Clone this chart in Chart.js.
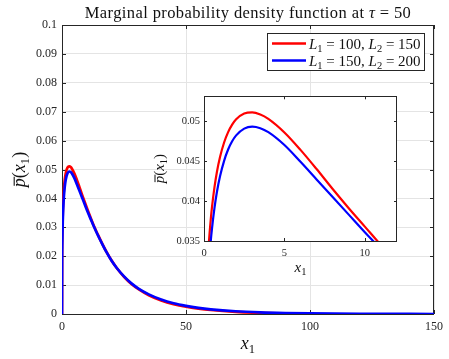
<!DOCTYPE html>
<html>
<head>
<meta charset="utf-8">
<script src="https://cdn.jsdelivr.net/npm/chart.js@4.4.1/dist/chart.umd.min.js"></script>
<style>
  html, body { margin: 0; padding: 0; background: #fff; }
  #wrap { position: relative; width: 449px; height: 359px; overflow: hidden; }
  #main { position: absolute; left: 0; top: 0; }
  #inset { position: absolute; left: 150px; top: 86px; }
</style>
</head>
<body>
<div id="wrap">
  <canvas id="main" width="449" height="359"></canvas>
  <canvas id="inset" width="260" height="200"></canvas>
</div>
<script>
// Sample positions along x1 shared by both densities
const x1Grid = [0, 0.05, 0.1, 0.2, 0.3, 0.42, 0.5, 0.65, 0.8, 1, 1.25, 1.5, 1.75, 2, 2.5, 3, 3.5, 4, 5, 6,
                7, 8, 9, 10, 11, 12, 13, 14, 15, 16, 18, 20, 22, 25, 28, 31, 35, 40, 45, 50,
                55, 60, 70, 80, 90, 100, 110, 120, 130, 140, 150];

// Density for L1 = 100, L2 = 150 (support ends at x1 = 100)
const densityL100 = [0, 0.0215, 0.0260, 0.0313, 0.0347, 0.0377, 0.0393, 0.0417, 0.0436, 0.04553, 0.04732, 0.04862, 0.04956, 0.05023, 0.05095, 0.05109, 0.05083, 0.05028, 0.04858, 0.0464,
                     0.0440, 0.0415, 0.0391, 0.0368, 0.0345, 0.0323, 0.0302, 0.0283, 0.0265, 0.0247, 0.0214, 0.0185, 0.0160, 0.0129, 0.0104, 0.0085, 0.0065, 0.0047, 0.0034, 0.0025,
                     0.00186, 0.00138, 0.00074, 0.00037, 0.00014, 0];

// Density for L1 = 150, L2 = 200 (support ends at x1 = 150)
const densityL150 = [0, 0.0188, 0.0232, 0.0284, 0.0319, 0.0350, 0.0366, 0.0391, 0.0411, 0.04312, 0.04503, 0.04644, 0.04747, 0.04821, 0.04906, 0.0493, 0.04911, 0.04861, 0.0470, 0.0449,
                     0.0427, 0.0405, 0.0383, 0.0361, 0.0340, 0.0320, 0.0300, 0.0281, 0.0263, 0.0246, 0.0213, 0.0184, 0.0160, 0.0130, 0.0106, 0.0087, 0.0068, 0.0050, 0.0037, 0.0028,
                     0.00212, 0.00162, 0.00095, 0.00056, 0.00034, 0.00021, 0.00013, 0.00008, 0.00005, 0.000025, 0];

const seriesNames = ['L1 = 100, L2 = 150', 'L1 = 150, L2 = 200'];

// Tick positions
const mainXTicks = [0, 50, 100, 150];
const mainYTicks = [0, 0.01, 0.02, 0.03, 0.04, 0.05, 0.06, 0.07, 0.08, 0.09, 0.1];
const insetXTicks = [0, 5, 10];
const insetYTicks = [0.035, 0.04, 0.045, 0.05];

const serif = "'Liberation Serif', 'DejaVu Serif', serif";
const ink = '#262626';
const gridInk = '#e4e4e4';

function toPoints(values) {
  return values.map((v, i) => ({ x: x1Grid[i], y: v }));
}

function fmtTick(v) {
  return String(Number(v.toFixed(4)));
}

// --- small typesetting helper for italic symbols with subscripts ---
function mathFont(size, italic) {
  return (italic ? 'italic ' : '') + size + 'px ' + serif;
}
function drawMath(ctx, parts, x, y, size, align, color, spacing) {
  ctx.letterSpacing = (spacing || 0) + 'px';
  let total = 0;
  parts.forEach(p => {
    ctx.font = mathFont(p.sub ? size * 0.7 : size, p.it);
    p.w = ctx.measureText(p.t).width;
    total += p.w;
  });
  let cx = align === 'center' ? x - total / 2 : x;
  ctx.fillStyle = color;
  ctx.textAlign = 'left';
  ctx.textBaseline = 'alphabetic';
  parts.forEach(p => {
    ctx.font = mathFont(p.sub ? size * 0.7 : size, p.it);
    ctx.fillText(p.t, cx, y + (p.sub ? size * 0.22 : 0));
    if (p.bar) {
      ctx.strokeStyle = color;
      ctx.lineWidth = Math.max(1, size * 0.06);
      ctx.beginPath();
      ctx.moveTo(cx + size * 0.08, y - size * 0.6);
      ctx.lineTo(cx + p.w + size * 0.08, y - size * 0.6);
      ctx.stroke();
    }
    cx += p.w;
  });
  ctx.letterSpacing = '0px';
  return total;
}

const pBarParts = () => [{ t: 'p', it: true, bar: true }, { t: '(' }, { t: 'x', it: true }, { t: '1', sub: true }, { t: ')' }];
const x1Parts = () => [{ t: 'x', it: true }, { t: '1', sub: true }];

// --- axes box with inward ticks on all four sides ---
const boxTicks = {
  id: 'boxTicks',
  beforeDraw(chart, args, opts) {
    if (!opts.fill) return;
    const a = chart.chartArea, ctx = chart.ctx;
    ctx.save();
    ctx.fillStyle = '#fff';
    ctx.fillRect(a.left, a.top, a.right - a.left, a.bottom - a.top);
    ctx.restore();
  },
  beforeDatasetsDraw(chart, args, opts) {
    const { ctx, chartArea: a, scales: { x, y } } = chart;
    const L = opts.len || 4;
    ctx.save();
    ctx.strokeStyle = ink;
    ctx.lineWidth = 1;
    ctx.beginPath();
    x.ticks.forEach(t => {
      const px = Math.round(x.getPixelForValue(t.value)) + 0.5;
      ctx.moveTo(px, a.bottom); ctx.lineTo(px, a.bottom - L);
      ctx.moveTo(px, a.top); ctx.lineTo(px, a.top + L);
    });
    y.ticks.forEach(t => {
      const py = Math.round(y.getPixelForValue(t.value)) + 0.5;
      ctx.moveTo(a.left, py); ctx.lineTo(a.left + L, py);
      ctx.moveTo(a.right, py); ctx.lineTo(a.right - L, py);
    });
    ctx.stroke();
    ctx.strokeRect(Math.round(a.left) + 0.5, Math.round(a.top) + 0.5,
                   Math.round(a.right - a.left) - 1, Math.round(a.bottom - a.top));
    ctx.restore();
  }
};

// --- title, axis labels and legend of the main axes ---
const mainText = {
  id: 'mainText',
  afterDraw(chart) {
    const ctx = chart.ctx, a = chart.chartArea;
    const cx = (a.left + a.right) / 2;
    ctx.save();
    drawMath(ctx, [{ t: 'Marginal probability density function at ' }, { t: 'τ', it: true }, { t: ' = 50' }],
             cx, 18, 16.5, 'center', '#111', 0.4);
    drawMath(ctx, x1Parts(), cx, 349, 18, 'center', '#111');
    ctx.save();
    ctx.translate(25, (a.top + a.bottom) / 2);
    ctx.rotate(-Math.PI / 2);
    drawMath(ctx, pBarParts(), 0, 0, 18, 'center', '#111');
    ctx.restore();

    // legend
    const bx = 267.5, by = 33.5, bw = 157, bh = 37;
    ctx.fillStyle = '#fff';
    ctx.fillRect(bx, by, bw, bh);
    ctx.strokeStyle = ink;
    ctx.lineWidth = 1;
    ctx.strokeRect(bx, by, bw, bh);
    const rows = [
      { color: '#ff0000', parts: [{ t: 'L', it: true }, { t: '1', sub: true }, { t: ' = 100, ' }, { t: 'L', it: true }, { t: '2', sub: true }, { t: ' = 150' }] },
      { color: '#0000ff', parts: [{ t: 'L', it: true }, { t: '1', sub: true }, { t: ' = 150, ' }, { t: 'L', it: true }, { t: '2', sub: true }, { t: ' = 200' }] }
    ];
    rows.forEach((r, i) => {
      const ry = 43.5 + i * 17;
      ctx.strokeStyle = r.color;
      ctx.lineWidth = 2.5;
      ctx.beginPath();
      ctx.moveTo(272, ry); ctx.lineTo(306, ry);
      ctx.stroke();
      drawMath(ctx, r.parts, 309, ry + 5, 15, 'left', '#111');
    });
    ctx.restore();
  }
};

const insetText = {
  id: 'insetText',
  afterDraw(chart) {
    const ctx = chart.ctx, a = chart.chartArea;
    ctx.save();
    drawMath(ctx, x1Parts(), (a.left + a.right) / 2, 185.5, 15, 'center', '#111');
    ctx.translate(14, (a.top + a.bottom) / 2);
    ctx.rotate(-Math.PI / 2);
    drawMath(ctx, pBarParts(), 0, 0, 15, 'center', '#111');
    ctx.restore();
  }
};

function datasets(width) {
  return [
    { label: seriesNames[0], data: toPoints(densityL100), borderColor: '#ff0000', borderWidth: width,
      pointRadius: 0, cubicInterpolationMode: 'monotone', fill: false, order: 2, clip: 0 },
    { label: seriesNames[1], data: toPoints(densityL150), borderColor: '#0000ff', borderWidth: width,
      pointRadius: 0, cubicInterpolationMode: 'monotone', fill: false, order: 1, clip: 0 }
  ];
}

function axis(min, max, tickValues, opts) {
  return {
    type: 'linear', min: min, max: max,
    afterBuildTicks: s => { s.ticks = tickValues.map(v => ({ value: v })); },
    afterFit: opts.fit,
    ticks: { font: { family: serif, size: opts.font }, color: ink, padding: opts.pad, maxRotation: 0,
             callback: v => fmtTick(v) },
    grid: { display: opts.grid, color: gridInk, drawTicks: false, lineWidth: 1 },
    border: { display: false }
  };
}

new Chart(document.getElementById('main'), {
  type: 'line',
  data: { datasets: datasets(2.7) },
  options: {
    responsive: false, animation: false, events: [],
    layout: { padding: { left: 0, right: 15, top: 25, bottom: 0 } },
    plugins: { legend: { display: false }, tooltip: { enabled: false }, boxTicks: { len: 4 } },
    scales: {
      x: axis(0, 150, mainXTicks, { font: 12, pad: 6, grid: true, fit: s => { s.height = 45; } }),
      y: axis(0, 0.1, mainYTicks, { font: 12, pad: 5, grid: true, fit: s => { s.width = 62; } })
    }
  },
  plugins: [boxTicks, mainText]
});

new Chart(document.getElementById('inset'), {
  type: 'line',
  data: { datasets: datasets(2.2) },
  options: {
    responsive: false, animation: false, events: [],
    layout: { padding: { left: 0, right: 13, top: 10, bottom: 0 } },
    plugins: { legend: { display: false }, tooltip: { enabled: false }, boxTicks: { len: 3, fill: true } },
    scales: {
      x: axis(0, 12, insetXTicks, { font: 10.5, pad: 6, grid: false, fit: s => { s.height = 45; } }),
      y: axis(0.035, 0.0531, insetYTicks, { font: 10.5, pad: 4, grid: false, fit: s => { s.width = 54; } })
    }
  },
  plugins: [boxTicks, insetText]
});
</script>
</body>
</html>
